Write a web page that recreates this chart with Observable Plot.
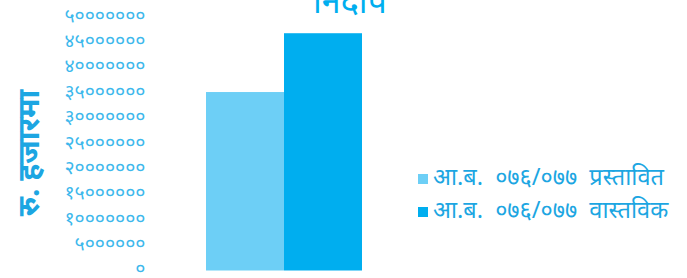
<!DOCTYPE html>
<html>
<head>
<meta charset="utf-8">
<script src="https://cdn.jsdelivr.net/npm/d3@7"></script>
<script src="https://cdn.jsdelivr.net/npm/@observablehq/plot@0.6"></script>
<style>
  html, body { margin: 0; padding: 0; background: #fff; }
  #wrap { position: relative; width: 687px; height: 278px; overflow: hidden; font-family: "Noto Sans", sans-serif; }
  #wrap svg { position: absolute; left: 0; top: 0; }
  .title { position: absolute; left: 313px; top: -17px; font-size: 34px; color: #00AEEF; white-space: nowrap; line-height: 1; }
  .ylab { position: absolute; left: 27px; top: 153px; transform: translate(-50%, -50%) rotate(-90deg); font-size: 30px; font-weight: bold; color: #1CA6E2; white-space: nowrap; }
  .legend { position: absolute; left: 418px; top: 160px; font-size: 23.5px; color: #1CA6E2; line-height: 33px; }
  .legend div { white-space: nowrap; word-spacing: 6px; }
  .legend span.sw { display: inline-block; width: 10px; height: 10px; margin-right: 5px; vertical-align: 1px; }
</style>
</head>
<body>
<div id="wrap"></div>
<script>
const categories = ["आ.ब. ०७६/०७७ प्रस्तावित", "आ.ब. ०७६/०७७ वास्तविक"];
const values = [35200000, 46800000];
const colors = ["#6DCFF6", "#00AEEF"];
const yTicks = [0, 5000000, 10000000, 15000000, 20000000, 25000000, 30000000, 35000000, 40000000, 45000000, 50000000];
const titleText = "निदाप";
const yLabelText = "रु. हजारमा";

const devDigits = "०१२३४५६७८९";
const toDev = n => String(n).replace(/[0-9]/g, d => devDigits[+d]);

const data = categories.map((c, i) => ({category: c, value: values[i]}));

const chart = Plot.plot({
  width: 687,
  height: 278,
  marginLeft: 206,
  marginRight: 325,
  marginTop: 17,
  marginBottom: 7.5,
  style: {fontFamily: "Noto Sans, sans-serif", background: "transparent"},
  x: {domain: categories, padding: 0, axis: null},
  y: {domain: [0, 50000000], ticks: yTicks, tickFormat: toDev, label: null},
  color: {domain: categories, range: colors},
  marks: [
    Plot.barY(data, {x: "category", y: "value", fill: "category", inset: 0}),
    Plot.axisY({ticks: yTicks, tickFormat: toDev, tickSize: 0, tickPadding: 61, dy: -2, label: null, fontSize: 19.5, fill: "#3DB8EC", color: "#3DB8EC"})
  ]
});

const wrap = document.getElementById("wrap");
wrap.appendChild(chart);

const t = document.createElement("div");
t.className = "title"; t.textContent = titleText; wrap.appendChild(t);

const yl = document.createElement("div");
yl.className = "ylab"; yl.textContent = yLabelText; wrap.appendChild(yl);

const lg = document.createElement("div");
lg.className = "legend";
categories.forEach((c, i) => {
  const row = document.createElement("div");
  const sw = document.createElement("span");
  sw.className = "sw"; sw.style.background = colors[i];
  row.appendChild(sw);
  row.appendChild(document.createTextNode(c));
  lg.appendChild(row);
});
wrap.appendChild(lg);
</script>
</body>
</html>
